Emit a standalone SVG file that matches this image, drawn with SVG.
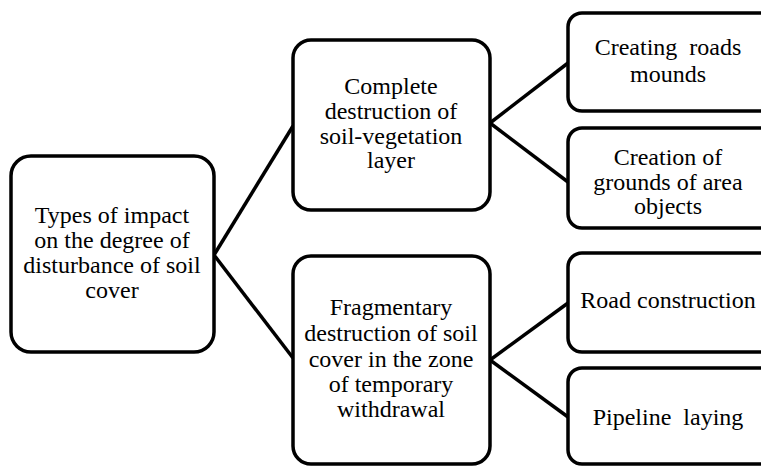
<svg xmlns="http://www.w3.org/2000/svg" width="761" height="466" viewBox="0 0 761 466">
<style>
.box{fill:#fff;stroke:#000;stroke-width:3.5}
.c{stroke:#000;stroke-width:3.5;fill:none}
svg text, text.t{font-family:"Liberation Serif",serif !important;font-size:24px;text-anchor:middle;fill:#000}
</style>
<rect width="761" height="466" fill="#fff"/>
<g id="connectors">
<line class="c" x1="214" y1="255" x2="293" y2="126"/>
<line class="c" x1="214" y1="255" x2="293" y2="358"/>
<line class="c" x1="490" y1="123" x2="568" y2="63"/>
<line class="c" x1="490" y1="123" x2="568" y2="182"/>
<line class="c" x1="490" y1="360" x2="568" y2="303"/>
<line class="c" x1="490" y1="360" x2="568" y2="417"/>
</g>
<g id="root">
<rect class="box" x="11" y="156" width="203" height="196" rx="20"/>
<text class="t" x="112" y="223" style="font-family:'Liberation Serif',serif">Types of impact</text>
<text class="t" x="112" y="248" style="font-family:'Liberation Serif',serif">on the degree of</text>
<text class="t" x="112" y="273" style="font-family:'Liberation Serif',serif">disturbance of soil</text>
<text class="t" x="112" y="298" style="font-family:'Liberation Serif',serif">cover</text>
</g>
<g id="complete">
<rect class="box" x="293" y="40" width="197" height="170" rx="18"/>
<text class="t" x="391" y="94" style="font-family:'Liberation Serif',serif">Complete</text>
<text class="t" x="391" y="119" style="font-family:'Liberation Serif',serif">destruction of</text>
<text class="t" x="391" y="144" style="font-family:'Liberation Serif',serif">soil-vegetation</text>
<text class="t" x="391" y="168" style="font-family:'Liberation Serif',serif">layer</text>
</g>
<g id="fragmentary">
<rect class="box" x="293" y="256" width="197" height="208" rx="18"/>
<text class="t" x="391" y="315" style="font-family:'Liberation Serif',serif">Fragmentary</text>
<text class="t" x="391" y="341" style="font-family:'Liberation Serif',serif">destruction of soil</text>
<text class="t" x="391" y="367" style="font-family:'Liberation Serif',serif">cover in the zone</text>
<text class="t" x="391" y="392" style="font-family:'Liberation Serif',serif">of temporary</text>
<text class="t" x="391" y="417" style="font-family:'Liberation Serif',serif">withdrawal</text>
</g>
<g id="roads">
<rect class="box" x="568" y="13" width="210" height="98" rx="14"/>
<text class="t" x="668" y="55" style="font-family:'Liberation Serif',serif" xml:space="preserve">Creating  roads</text>
<text class="t" x="668" y="82" style="font-family:'Liberation Serif',serif">mounds</text>
</g>
<g id="grounds">
<rect class="box" x="568" y="128" width="210" height="100" rx="14"/>
<text class="t" x="668" y="165" style="font-family:'Liberation Serif',serif">Creation of</text>
<text class="t" x="668" y="190" style="font-family:'Liberation Serif',serif">grounds of area</text>
<text class="t" x="668" y="214" style="font-family:'Liberation Serif',serif">objects</text>
</g>
<g id="roadcon">
<rect class="box" x="568" y="253" width="210" height="99" rx="14"/>
<text class="t" x="668" y="308" style="font-family:'Liberation Serif',serif">Road construction</text>
</g>
<g id="pipeline">
<rect class="box" x="568" y="368" width="210" height="96" rx="14"/>
<text class="t" x="668" y="425" style="font-family:'Liberation Serif',serif" xml:space="preserve">Pipeline  laying</text>
</g>
</svg>
